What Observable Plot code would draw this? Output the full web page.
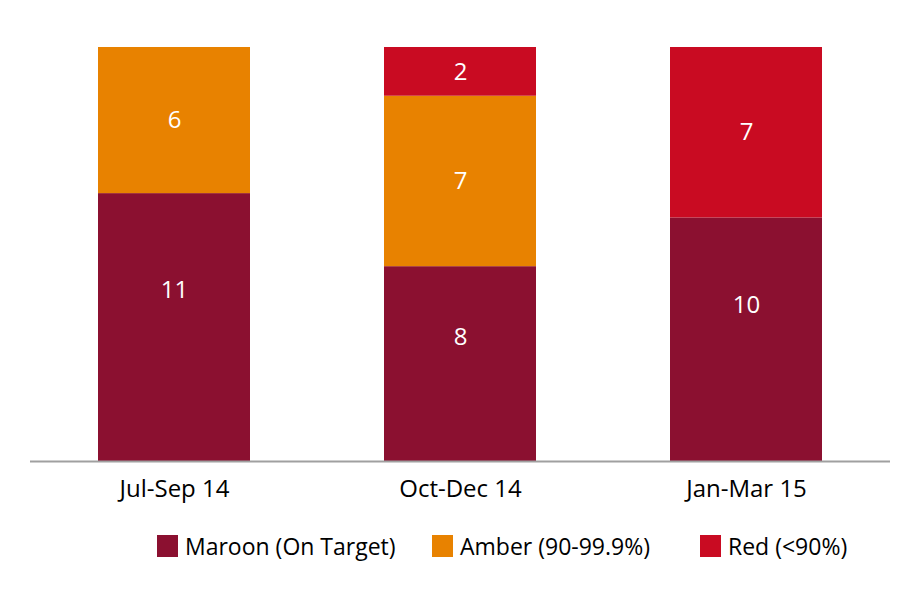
<!DOCTYPE html>
<html>
<head>
<meta charset="utf-8">
<script src="https://cdn.jsdelivr.net/npm/d3@7"></script>
<script src="https://cdn.jsdelivr.net/npm/@observablehq/plot@0.6"></script>
<style>
  html, body { margin: 0; padding: 0; background: #fff; }
  body { width: 923px; height: 598px; overflow: hidden; font-family: "Open Sans", sans-serif; }
  #legend { position: absolute; left: 0; top: 530px; width: 923px; height: 30px; }
  .item { position: absolute; top: 0; display: flex; align-items: center; font-size: 23px; color: #000; white-space: nowrap; }
  .sw { width: 21px; height: 22px; margin-right: 7px; }
</style>
</head>
<body>
<div id="chart"></div>
<div id="legend"></div>
<script>
const categories = ["Jul-Sep 14", "Oct-Dec 14", "Jan-Mar 15"];
const seriesNames = ["Maroon (On Target)", "Amber (90-99.9%)", "Red (<90%)"];
const seriesColors = ["#8B1030", "#E88200", "#C90B22"];
const maroonValues = [11, 8, 10];
const amberValues = [6, 7, 0];
const redValues = [0, 2, 7];

const valuesBySeries = [maroonValues, amberValues, redValues];
const data = [];
categories.forEach((c, i) => {
  let base = 0;
  seriesNames.forEach((s, j) => {
    const v = valuesBySeries[j][i];
    if (v > 0) data.push({category: c, series: s, value: v, base});
    base += v;
  });
});
// label anchor within each segment (fraction from its bottom), as in the reference
const labelFrac = (d) => d.series === seriesNames[0] ? 0.64 : 0.5;

const chart = Plot.plot({
  width: 923,
  height: 515,
  marginTop: 47,
  marginBottom: 54,
  marginLeft: 30,
  marginRight: 33,
  style: {fontFamily: "Open Sans, sans-serif", fontSize: "24px", color: "#000", background: "#fff"},
  x: {domain: categories, paddingInner: 0.47, paddingOuter: 0.235, label: null, tickSize: 0, tickPadding: 18},
  y: {domain: [0, 17], axis: null},
  color: {domain: seriesNames, range: seriesColors},
  marks: [
    Plot.barY(data, {x: "category", y: "value", fill: "series", order: null}),
    Plot.text(data, {x: "category", y: (d) => d.base + labelFrac(d) * d.value, text: "value", fill: "white", fontSize: 24}),
    Plot.ruleY([0], {stroke: "#A0A0A0", strokeWidth: 2})
  ]
});
document.getElementById("chart").appendChild(chart);

const legend = document.getElementById("legend");
const lefts = [157, 432, 700];
seriesNames.forEach((s, i) => {
  const item = document.createElement("div");
  item.className = "item";
  item.style.left = lefts[i] + "px";
  const sw = document.createElement("div");
  sw.className = "sw";
  sw.style.background = seriesColors[i];
  const t = document.createElement("span");
  t.textContent = s;
  item.appendChild(sw);
  item.appendChild(t);
  legend.appendChild(item);
});
</script>
</body>
</html>
